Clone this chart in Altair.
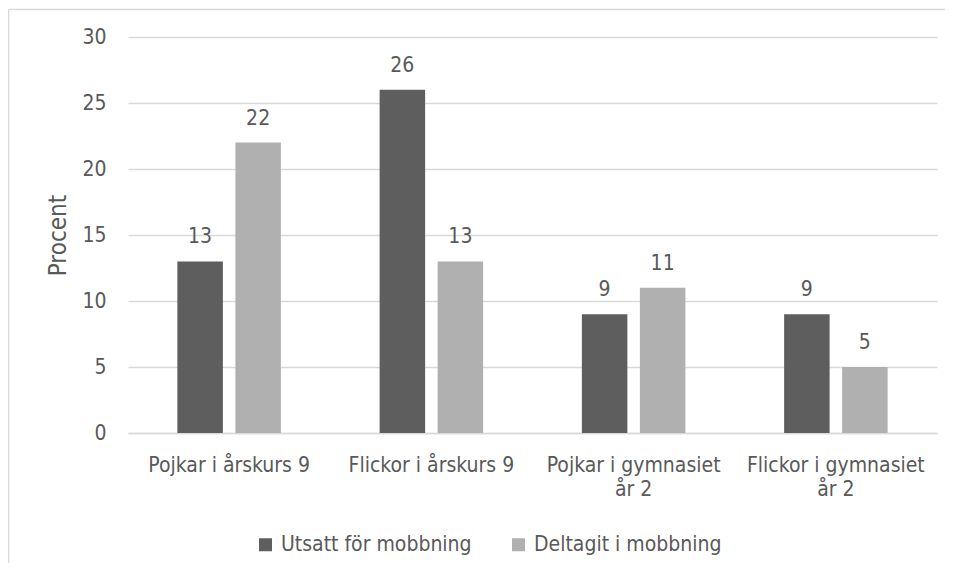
import altair as alt
import pandas as pd

categories = ["Pojkar i årskurs 9", "Flickor i årskurs 9",
              "Pojkar i gymnasiet år 2", "Flickor i gymnasiet år 2"]
series = ["Utsatt för mobbning", "Deltagit i mobbning"]
utsatt = [13, 26, 9, 9]
deltagit = [22, 13, 11, 5]
colors = ["#5E5E5E", "#B0B0B0"]
y_ticks = [0, 5, 10, 15, 20, 25, 30]

rows = []
for c, u, d in zip(categories, utsatt, deltagit):
    rows.append({"kategori": c, "serie": series[0], "procent": u})
    rows.append({"kategori": c, "serie": series[1], "procent": d})
df = pd.DataFrame(rows)

FONT = "DejaVu Sans Condensed, Liberation Sans Narrow, Liberation Sans"
TEXT = "#595959"
GRID = "#D9D9D9"
FS = 21
W, H = 809, 396

line1 = "indexof(datum.label, ' år 2') > 0 ? replace(datum.label, ' år 2', '') : datum.label"
line2 = "indexof(datum.label, ' år 2') > 0 ? 'år 2' : ''"

x_main = alt.X("kategori:N", sort=categories,
               scale=alt.Scale(paddingInner=0, paddingOuter=0),
               axis=alt.Axis(title=None, labelAngle=0, ticks=False, domainColor=GRID,
                             domainWidth=1.5, labelExpr=line1, labelAlign="center",
                             labelFont=FONT, labelFontSize=FS, labelColor=TEXT,
                             labelPadding=21, labelLimit=400, labelBaseline="top",
                             orient="bottom"))
x_second = alt.X("kategori:N", sort=categories,
                 axis=alt.Axis(title=None, labelAngle=0, ticks=False, domain=False,
                               grid=False, labelExpr=line2, labelAlign="center",
                               labelFont=FONT, labelFontSize=FS, labelColor=TEXT,
                               labelPadding=45, labelLimit=400, labelBaseline="top",
                               orient="bottom"))
y = alt.Y("procent:Q", scale=alt.Scale(domain=[0, 30], nice=False),
          axis=alt.Axis(values=y_ticks, title="Procent", grid=True, gridColor=GRID,
                        gridWidth=1.3, domain=False, ticks=False, labelPadding=22,
                        labelFont=FONT, labelFontSize=FS, labelColor=TEXT,
                        titleFont=FONT, titleFontSize=24, titleColor=TEXT,
                        titleFontWeight="normal", titlePadding=11))
xo = alt.XOffset("serie:N", sort=series,
                 scale=alt.Scale(paddingInner=0.2155, paddingOuter=0.851))
color = alt.Color("serie:N", sort=series,
                  scale=alt.Scale(domain=series, range=colors),
                  legend=alt.Legend(title=None, orient="none", legendX=127, legendY=497,
                                    direction="horizontal", symbolType="square",
                                    symbolSize=169, symbolStrokeWidth=0,
                                    labelFont=FONT, labelFontSize=FS, labelColor=TEXT,
                                    labelLimit=400, columnPadding=36, labelOffset=5,
                                    padding=0))

bars = alt.Chart(df).mark_bar().encode(x=x_main, xOffset=xo, y=y, color=color)
labels = alt.Chart(df).mark_text(dy=-18, baseline="alphabetic", fontSize=FS,
                                 color=TEXT, font=FONT).encode(
    x=x_second, xOffset=alt.XOffset("serie:N", sort=series),
    y="procent:Q", text="procent:Q")

frame_df = pd.DataFrame({"f": [0]})
left_line = alt.Chart(frame_df).mark_rule(color=GRID, strokeWidth=1.5).encode(
    x=alt.value(-119.5), y=alt.value(-27.5), y2=alt.value(H + 130))
top_line = alt.Chart(frame_df).mark_rule(color=GRID, strokeWidth=1.5).encode(
    x=alt.value(-119.5), x2=alt.value(W + 8), y=alt.value(-27.5))

chart = alt.layer(bars, labels, left_line, top_line).resolve_axis(
    x="independent"
).properties(
    width=W, height=H,
    autosize=alt.AutoSizeParams(type="none"),
    padding={"left": 120, "top": 29, "right": 8, "bottom": 130},
).configure_view(stroke=None)

chart.save("out.html", embed_options={"renderer": "svg", "actions": False})
